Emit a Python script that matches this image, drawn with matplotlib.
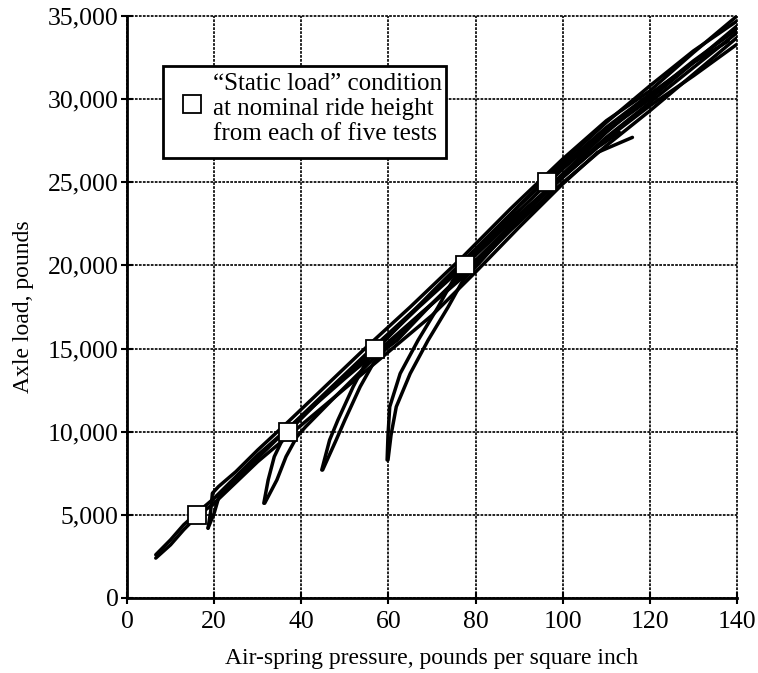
import matplotlib
matplotlib.use("Agg")
import matplotlib.pyplot as plt
from matplotlib.patches import Rectangle
from matplotlib.ticker import FuncFormatter

plt.rcParams['font.family'] = ['Liberation Serif', 'DejaVu Serif']

# ---- data ----
x_ticks = [0, 20, 40, 60, 80, 100, 120, 140]
y_ticks = [0, 5000, 10000, 15000, 20000, 25000, 30000, 35000]

# static-load points (one per test)
static_psi = [16, 37, 57, 77.5, 96.5]
static_load = [5000, 10000, 15000, 20000, 25000]

# test 1
t1a_x = [6.6, 10, 13, 16, 20, 30, 40, 50, 60, 70, 80, 90, 100, 108, 116]
t1a_y = [2400, 3200, 4100, 4900, 5700, 8200, 10400, 12600, 14800, 17000, 19600, 22300, 24900, 26800, 27700]
t1b_x = [6.6, 10, 13, 16, 20, 30, 40, 50, 60, 70, 80, 90, 100, 108, 113]
t1b_y = [2600, 3500, 4400, 5100, 6000, 8600, 10900, 13200, 15400, 17700, 20200, 22800, 25300, 27100, 28000]
# test 2
t2a_x = [18.6, 19.2, 19.6, 21, 25, 30, 37, 45, 55, 65, 77, 88, 100, 110, 120, 130, 140]
t2a_y = [4200, 5200, 6300, 6700, 7600, 8900, 10600, 12600, 15100, 17500, 20500, 23400, 26400, 28700, 30500, 32800, 35000]
t2b_x = [18.6, 20, 21, 23, 28, 35, 45, 55, 65, 77, 88, 100, 110, 120, 130, 140]
t2b_y = [4200, 5100, 6000, 6600, 7900, 9700, 12200, 14700, 17100, 20000, 22800, 25800, 28100, 30000, 32200, 34400]
# test 3
t3a_x = [31.4, 32.4, 33.8, 36, 38.5, 45, 57, 67, 77.5, 88, 97, 110, 120, 130, 140]
t3a_y = [5700, 7100, 8500, 9700, 10400, 12100, 15000, 17500, 20000, 22600, 24700, 27700, 29800, 31900, 34000]
t3b_x = [31.6, 34.4, 36.5, 39, 41, 47, 57, 67, 78, 88, 97, 110, 120, 130, 140]
t3b_y = [5700, 7100, 8500, 9700, 10300, 11900, 14500, 17000, 19500, 22100, 24300, 27200, 29300, 31500, 33700]
# test 4
t4a_x = [44.7, 46.5, 48.4, 51.9, 54.5, 57, 60, 70, 80, 90, 100, 110, 120, 130, 138]
t4a_y = [7700, 9500, 10700, 12700, 14000, 14900, 15700, 18400, 21000, 23600, 26000, 28300, 30300, 32200, 33500]
t4b_x = [44.9, 48, 50, 53.5, 56.5, 59.5, 62, 70, 80, 90, 100, 110, 120, 130, 140]
t4b_y = [7700, 9500, 10700, 12700, 14100, 15000, 15500, 17700, 20300, 22900, 25300, 27600, 29600, 31400, 33300]
# test 5
t5a_x = [59.7, 59.9, 60.3, 62.7, 66.8, 71.4, 74.8, 77.5, 80, 90, 98, 110, 120, 130, 140]
t5a_y = [8300, 9800, 11500, 13500, 15500, 17500, 19100, 20000, 20700, 23600, 25700, 28600, 30800, 32900, 34700]
t5b_x = [59.9, 60.6, 61.8, 65, 69.1, 73.7, 77.1, 80, 90, 98, 110, 120, 130, 140]
t5b_y = [8300, 9800, 11500, 13500, 15500, 17500, 19100, 19900, 22800, 25000, 28000, 30200, 32300, 34200]

curves = [(t1a_x, t1a_y), (t1b_x, t1b_y), (t2a_x, t2a_y), (t2b_x, t2b_y),
          (t3a_x, t3a_y), (t3b_x, t3b_y), (t4a_x, t4a_y), (t4b_x, t4b_y),
          (t5a_x, t5a_y), (t5b_x, t5b_y)]

legend_lines = ["\u201cStatic load\u201d condition", "at nominal ride height", "from each of five tests"]

# ---- figure ----
fig = plt.figure(figsize=(7.58, 6.73), dpi=100)
ax = fig.add_axes([127/758, 75/673, 610/758, 582/673])
ax.set_xlim(0, 140)
ax.set_ylim(0, 35000)

for xs, ys in curves:
    ax.plot(xs, ys, color='black', lw=2.5, solid_capstyle='round', solid_joinstyle='round', zorder=3)

ax.plot(static_psi, static_load, linestyle='none', marker='s', markersize=13.5,
        markerfacecolor='white', markeredgecolor='black', markeredgewidth=1.3, zorder=6)

ax.set_xticks(x_ticks)
ax.set_yticks(y_ticks)
ax.yaxis.set_major_formatter(FuncFormatter(lambda v, p: f"{int(v):,}"))
ax.grid(True, color='#111111', lw=1.3, linestyle=(0, (1.5, 0.7)), zorder=1)
for gl in ax.get_xgridlines() + ax.get_ygridlines():
    gl.set_clip_on(False)
ax.set_axisbelow(True)

for s in ['top', 'right']:
    ax.spines[s].set_visible(False)
for s in ['left', 'bottom']:
    ax.spines[s].set_linewidth(2.0)
    ax.spines[s].set_zorder(4)

ax.tick_params(direction='inout', length=8, width=1.5, labelsize=18.5, colors='black')
ax.tick_params(axis='x', pad=5)
ax.tick_params(axis='y', pad=2)
ax.set_xlabel("Air-spring pressure, pounds per square inch", fontsize=17, labelpad=11)
ax.set_ylabel("Axle load, pounds", fontsize=17, labelpad=10)

# legend box
ax.add_patch(Rectangle((0.059, 0.756), 0.464, 0.158, transform=ax.transAxes,
                       facecolor='white', edgecolor='black', lw=2.0, zorder=7))
ax.plot([0.107], [0.849], transform=ax.transAxes, marker='s', markersize=12.5,
        markerfacecolor='white', markeredgecolor='black', markeredgewidth=1.3, zorder=8)
for i, t in enumerate(legend_lines):
    ax.text(0.141, 0.884 - i * 0.0437, t, transform=ax.transAxes, fontsize=18,
            va='center', ha='left', zorder=8)

fig.savefig("out.png", dpi=100)
